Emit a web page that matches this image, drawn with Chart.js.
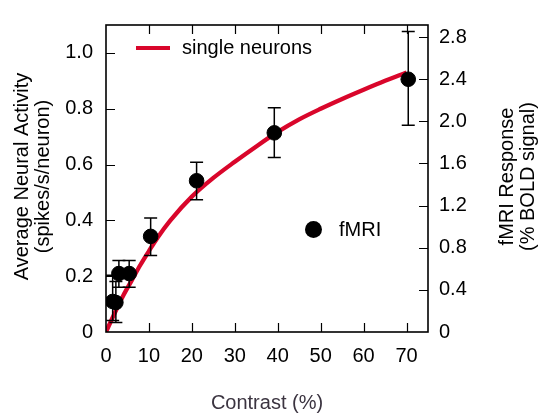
<!DOCTYPE html>
<html>
<head>
<meta charset="utf-8">
<script src="https://cdn.jsdelivr.net/npm/chart.js@4"></script>
<style>
  html, body { margin: 0; padding: 0; background: #ffffff; }
  #wrap { width: 538px; height: 413px; position: relative; }
</style>
</head>
<body>
<div id="wrap"><canvas id="c" width="538" height="413"></canvas></div>
<script>
// ---- data ----
const xTicks = [0, 10, 20, 30, 40, 50, 60, 70];
const leftTicks = [0, 0.2, 0.4, 0.6, 0.8, 1.0];
const leftTickLabels = ["0", "0.2", "0.4", "0.6", "0.8", "1.0"];
const rightTicks = [0, 0.4, 0.8, 1.2, 1.6, 2.0, 2.4, 2.8];
const rightTickLabels = ["0", "0.4", "0.8", "1.2", "1.6", "2.0", "2.4", "2.8"];

// single neurons curve (left axis, spikes/s/neuron)
const neuronContrast = [0, 1, 2, 3, 4, 6, 8, 10, 12, 15, 20, 25, 30, 35, 40, 45, 50, 55, 60, 65, 70];
const neuronActivity = [0, 0.034, 0.067, 0.099, 0.13, 0.185, 0.24, 0.29, 0.338, 0.40, 0.485, 0.552, 0.61, 0.665, 0.717, 0.762, 0.80, 0.835, 0.868, 0.90, 0.93];

// fMRI points (right axis, % BOLD signal)
const fmriContrast = [1.55, 2.3, 3.0, 5.4, 10.4, 21.1, 39.2, 70.4];
const fmriBold     = [0.29, 0.28, 0.555, 0.555, 0.908, 1.436, 1.891, 2.40];
const fmriErrHigh  = [0.54, 0.48, 0.68, 0.68, 1.083, 1.611, 2.13, 2.853];
const fmriErrLow   = [0.11, 0.09, 0.425, 0.425, 0.727, 1.255, 1.656, 1.964];

const xMin = 0, xMax = 75;
const leftMax = 1.1, rightMax = 2.915;

const FONT = "'Liberation Sans', Arial, sans-serif";
const RED = "#d9062b";

const framePlugin = {
  id: 'frame',
  afterDatasetsDraw(chart) {
    const { ctx, scales } = chart;
    const x = scales.x, y2 = scales.y2;
    ctx.save();
    ctx.strokeStyle = '#000';
    ctx.lineWidth = 1.5;
    for (let i = 0; i < fmriContrast.length; i++) {
      const px = x.getPixelForValue(fmriContrast[i]);
      const pHi = y2.getPixelForValue(fmriErrHigh[i]);
      const pLo = y2.getPixelForValue(fmriErrLow[i]);
      ctx.beginPath();
      ctx.moveTo(px, pHi); ctx.lineTo(px, pLo);
      ctx.moveTo(px - 6.5, pHi); ctx.lineTo(px + 6.5, pHi);
      ctx.moveTo(px - 6.5, pLo); ctx.lineTo(px + 6.5, pLo);
      ctx.stroke();
    }
    ctx.restore();
  },
  afterDraw(chart) {
    const { ctx, chartArea: a, scales } = chart;
    const x = scales.x, y = scales.y, y2 = scales.y2;
    ctx.save();
    ctx.strokeStyle = '#000';
    ctx.lineWidth = 1.6;
    ctx.strokeRect(a.left, a.top, a.right - a.left, a.bottom - a.top);
    ctx.lineWidth = 1.2;
    ctx.beginPath();
    const T = 9;
    xTicks.forEach(v => {
      const p = Math.round(x.getPixelForValue(v)) + 0.5;
      if (v !== 0) {
        ctx.moveTo(p, a.bottom); ctx.lineTo(p, a.bottom - T);
        ctx.moveTo(p, a.top); ctx.lineTo(p, a.top + T);
      }
    });
    leftTicks.forEach(v => {
      const p = Math.round(y.getPixelForValue(v)) + 0.5;
      if (v !== 0) { ctx.moveTo(a.left, p); ctx.lineTo(a.left + T, p); }
    });
    rightTicks.forEach(v => {
      const p = Math.round(y2.getPixelForValue(v)) + 0.5;
      if (v !== 0) { ctx.moveTo(a.right, p); ctx.lineTo(a.right - T, p); }
    });
    ctx.stroke();

    // axis titles
    ctx.fillStyle = '#000';
    ctx.font = '20px ' + FONT;
    ctx.textAlign = 'center';
    ctx.textBaseline = 'middle';
    const cy = (a.top + a.bottom) / 2 - 2;
    ctx.save();
    ctx.translate(22, cy); ctx.rotate(-Math.PI / 2);
    ctx.fillText('Average Neural Activity', 0, 0);
    ctx.restore();
    ctx.save();
    ctx.translate(43, cy); ctx.rotate(-Math.PI / 2);
    ctx.fillText('(spikes/s/neuron)', 0, 0);
    ctx.restore();
    ctx.save();
    ctx.translate(507, cy); ctx.rotate(-Math.PI / 2);
    ctx.fillText('fMRI Response', 0, 0);
    ctx.restore();
    ctx.save();
    ctx.translate(528, cy); ctx.rotate(-Math.PI / 2);
    ctx.fillText('(% BOLD signal)', 0, 0);
    ctx.restore();

    ctx.fillStyle = '#3b3440';
    ctx.fillText('Contrast (%)', (a.left + a.right) / 2, 403);

    // legend
    ctx.strokeStyle = RED;
    ctx.lineWidth = 4;
    ctx.beginPath();
    ctx.moveTo(136, 48); ctx.lineTo(170, 48);
    ctx.stroke();
    ctx.fillStyle = '#000';
    ctx.textAlign = 'left';
    ctx.fillText('single neurons', 182, 48);
    ctx.beginPath();
    ctx.arc(313.5, 229.5, 8.5, 0, Math.PI * 2);
    ctx.fill();
    ctx.fillText('fMRI', 339, 230);
    ctx.restore();
  }
};

const tickFont = { family: FONT, size: 20 };

new Chart(document.getElementById('c'), {
  data: {
    datasets: [
      {
        type: 'line',
        label: 'single neurons',
        data: neuronContrast.map((c, i) => ({ x: c, y: neuronActivity[i] })),
        borderColor: RED,
        borderWidth: 4.3,
        pointRadius: 0,
        cubicInterpolationMode: 'monotone',
        fill: false,
        yAxisID: 'y',
        order: 2
      },
      {
        type: 'scatter',
        label: 'fMRI',
        data: fmriContrast.map((c, i) => ({ x: c, y: fmriBold[i] })),
        backgroundColor: '#000',
        borderColor: '#000',
        pointRadius: 7.3,
        pointHoverRadius: 7.3,
        yAxisID: 'y2',
        order: 1
      }
    ]
  },
  options: {
    responsive: false,
    animation: false,
    events: [],
    layout: { padding: { top: 10, left: 0, right: 0, bottom: 0 } },
    plugins: { legend: { display: false }, tooltip: { enabled: false } },
    scales: {
      x: {
        type: 'linear', position: 'bottom', min: xMin, max: xMax,
        grid: { display: false, drawTicks: false },
        border: { display: false },
        afterBuildTicks: s => { s.ticks = xTicks.map(v => ({ value: v })); },
        afterFit: s => { s.height = 81; },
        ticks: { color: '#000', font: tickFont, padding: 12, maxRotation: 0, autoSkip: false,
                 callback: v => String(v) }
      },
      y: {
        type: 'linear', position: 'left', min: 0, max: leftMax,
        grid: { display: false, drawTicks: false },
        border: { display: false },
        afterBuildTicks: s => { s.ticks = leftTicks.map(v => ({ value: v })); },
        afterFit: s => { s.width = 106; },
        ticks: { color: '#000', font: tickFont, padding: 13, autoSkip: false,
                 callback: v => leftTickLabels[leftTicks.findIndex(t => Math.abs(t - v) < 1e-6)] }
      },
      y2: {
        type: 'linear', position: 'right', min: 0, max: rightMax,
        grid: { display: false, drawTicks: false },
        border: { display: false },
        afterBuildTicks: s => { s.ticks = rightTicks.map(v => ({ value: v })); },
        afterFit: s => { s.width = 110; },
        ticks: { color: '#000', font: tickFont, padding: 11, autoSkip: false,
                 callback: v => rightTickLabels[rightTicks.findIndex(t => Math.abs(t - v) < 1e-6)] }
      }
    }
  },
  plugins: [framePlugin]
});
</script>
</body>
</html>
